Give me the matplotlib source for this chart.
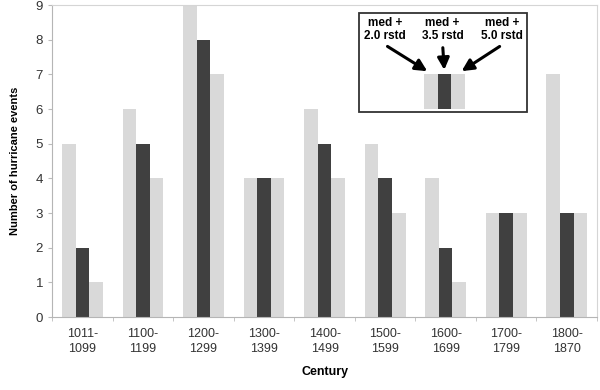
import numpy as np
import matplotlib.pyplot as plt
from matplotlib.patches import Rectangle

plt.rcParams['font.family'] = ['Liberation Sans', 'DejaVu Sans']

centuries = ['1011-\n1099', '1100-\n1199', '1200-\n1299', '1300-\n1399', '1400-\n1499',
             '1500-\n1599', '1600-\n1699', '1700-\n1799', '1800-\n1870']
rstd_20 = [5, 6, 9, 4, 6, 5, 4, 3, 7]
rstd_35 = [2, 5, 8, 4, 5, 4, 2, 3, 3]
rstd_50 = [1, 4, 7, 4, 4, 3, 1, 3, 3]

inset_labels = ['med +\n2.0 rstd', 'med +\n3.5 rstd', 'med +\n5.0 rstd']

light = '#d9d9d9'
dark = '#404040'

fig = plt.figure(figsize=(6, 3.9), dpi=100)
ax = fig.add_axes([0.087, 0.187, 0.908, 0.800])

x = np.arange(len(centuries))
w = 0.225
ax.bar(x - w, rstd_20, w, color=light)
ax.bar(x, rstd_35, w, color=dark)
ax.bar(x + w, rstd_50, w, color=light)

ax.set_xlim(-0.5, len(centuries) - 0.5)
ax.set_ylim(0, 9)
ax.set_yticks(range(10))
ax.set_xticks(x)
ax.set_xticklabels(centuries, fontsize=9, color='#333333', linespacing=1.35)
ax.set_xticks(np.arange(-0.5, len(centuries)), minor=True)
ax.tick_params(axis='x', which='major', length=0, pad=8)
ax.tick_params(axis='x', which='minor', length=3, color='#bbbbbb')
ax.tick_params(axis='y', length=3, color='#bbbbbb', labelsize=9.5, labelcolor='#333333')

for s in ['left', 'bottom']:
    ax.spines[s].set_color('#b5b5b5')
for s in ['top', 'right']:
    ax.spines[s].set_color('#d5d5d5')

ax.set_xlabel('Century', fontsize=9, fontweight='bold', labelpad=8)
ax.set_ylabel('Number of hurricane events', fontsize=8, fontweight='bold', labelpad=11)

# inset key box
ax.add_patch(Rectangle((4.57, 5.91), 2.78, 2.86, fill=False, edgecolor='#333333', lw=1.3, zorder=4))
kx = 5.98
ax.bar([kx - w, kx, kx + w], [1, 1, 1], w, bottom=6, color=[light, dark, light], zorder=5)
text_x = [5.0, 5.95, 6.93]
tips = [(kx - w - 0.02, 7.05), (kx, 7.05), (kx + w + 0.02, 7.05)]
for tx, lab, tip in zip(text_x, inset_labels, tips):
    ax.text(tx, 8.3, lab, ha='center', va='center', fontsize=8.5, fontweight='bold',
            linespacing=1.1, zorder=6)
    ax.annotate('', xy=tip, xytext=(tx, 7.85),
                arrowprops=dict(arrowstyle='-|>,head_width=0.35,head_length=0.7',
                                color='black', lw=2.2), zorder=6)

fig.savefig('out.png', dpi=100)
